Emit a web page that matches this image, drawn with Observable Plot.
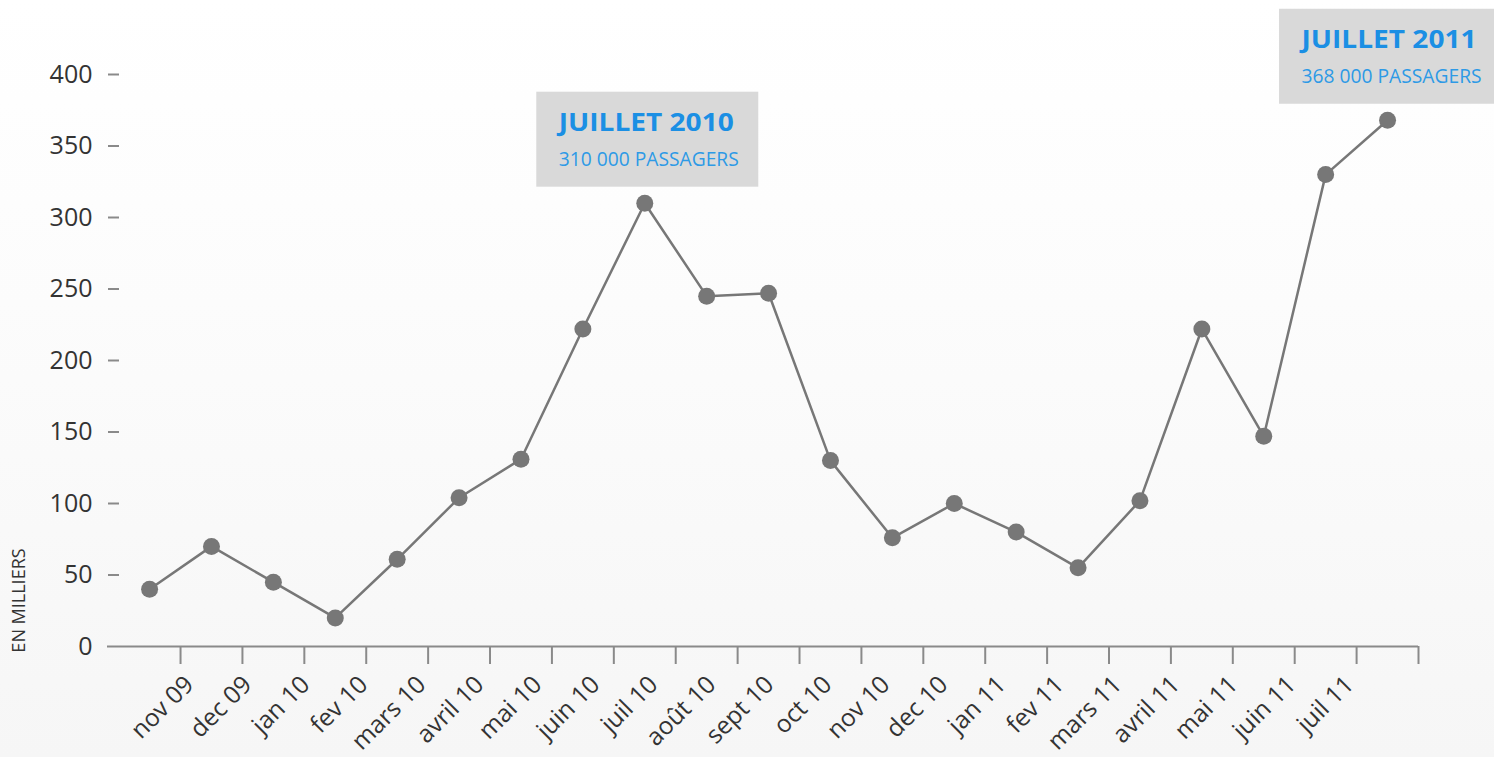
<!DOCTYPE html>
<html>
<head>
<meta charset="utf-8">
<script src="https://cdn.jsdelivr.net/npm/d3@7"></script>
<script src="https://cdn.jsdelivr.net/npm/@observablehq/plot@0.6"></script>
<style>
  html, body { margin: 0; padding: 0; }
  body { width: 1494px; height: 757px; overflow: hidden; background: linear-gradient(#ffffff 0%, #fcfcfc 40%, #f6f6f6 100%); }
  #chart { position: relative; width: 1494px; height: 757px; }
  #chart svg { position: absolute; left: 0; top: 0; display: block; }
</style>
</head>
<body>
<div id="chart"></div>
<script>
const months = ["nov 09", "dec 09", "jan 10", "fev 10", "mars 10", "avril 10", "mai 10", "juin 10", "juil 10", "août 10", "sept 10", "oct 10", "nov 10", "dec 10", "jan 11", "fev 11", "mars 11", "avril 11", "mai 11", "juin 11", "juil 11"];
const passagers = [40, 70, 45, 20, 61, 104, 131, 222, 310, 245, 247, 130, 76, 100, 80, 55, 102, 222, 147, 330, 368];
const yTicks = [0, 50, 100, 150, 200, 250, 300, 350, 400];
const annotMonths = ["juil 10", "juil 11"];
const annotTitles = ["JUILLET 2010", "JUILLET 2011"];
const annotSubs = ["310 000 PASSAGERS", "368 000 PASSAGERS"];
const unitLabel = "EN MILLIERS";

const data = months.map((m, i) => ({m, pos: i + 0.5, v: passagers[i]}));
const tickPositions = months.map((m, i) => i + 1);
const annots = annotMonths.map((m, k) => ({...data[months.indexOf(m)], title: annotTitles[k], sub: annotSubs[k]}));

const gray = "#8a8a8a";
const font = "'Open Sans', sans-serif";

// Main chart: line, dots, axis ticks, annotations
const chart = Plot.plot({
  width: 1494,
  height: 757,
  marginLeft: 107,
  marginRight: 76,
  marginTop: 74,
  marginBottom: 111,
  x: {domain: [-0.18, 21], axis: null},
  y: {domain: [0, 400], axis: null},
  style: {background: "transparent", fontFamily: font, overflow: "visible"},
  marks: [
    Plot.ruleY([0], {stroke: gray, strokeWidth: 2}),
    Plot.axisX({ticks: tickPositions, tickSize: 18, tickFormat: () => "", stroke: gray, strokeWidth: 2, label: null}),
    Plot.axisY({ticks: yTicks.filter(t => t > 0), tickSize: 11, dx: 12, tickFormat: () => "", stroke: gray, strokeWidth: 2, label: null}),
    Plot.axisY({ticks: yTicks, tickSize: 0, tickPadding: 15, fontSize: 25, fill: "#333", label: null}),
    Plot.text([unitLabel], {frameAnchor: "bottom-left", rotate: -90, dx: -83, dy: -46, fontSize: 18, fill: "#333", textAnchor: "middle"}),
    Plot.line(data, {x: "pos", y: "v", stroke: "#777", strokeWidth: 2.5}),
    Plot.dot(data, {x: "pos", y: "v", r: 8.5, fill: "#777", stroke: "none"}),
    Plot.rect(annots, {x1: "pos", x2: "pos", y1: "v", y2: "v", insetLeft: -108, insetRight: -114, insetTop: -111, insetBottom: 16, fill: "#d9d9d9"}),
    Plot.text(annots, {x: "pos", y: "v", text: "title", textAnchor: "start", lineAnchor: "bottom", dx: -86, dy: -72, fontSize: 25, fontWeight: "bold", fill: "#1b8fe4"}),
    Plot.text(annots, {x: "pos", y: "v", text: "sub", textAnchor: "start", lineAnchor: "bottom", dx: -86, dy: -37, fontSize: 20.5, fill: "#2d9ae6"})
  ]
});

// Month labels, spaced as in the original (slightly tighter than the ticks)
const labels = Plot.plot({
  width: 1494,
  height: 757,
  marginLeft: 182,
  marginRight: 139,
  marginTop: 74,
  marginBottom: 111,
  x: {type: "point", domain: months, padding: 0, axis: null},
  style: {background: "transparent", fontFamily: font, overflow: "visible"},
  marks: [
    Plot.axisX({tickSize: 0, tickPadding: 34, tickRotate: -45, fontSize: 24.5, fill: "#333", label: null})
  ]
});

d3.select(chart).selectAll("text").each(function() {
  const t = this.textContent;
  if (annotSubs.includes(t)) { this.setAttribute("textLength", 180); this.setAttribute("lengthAdjust", "spacingAndGlyphs"); }
  if (annotTitles.includes(t)) { this.setAttribute("textLength", 175); this.setAttribute("lengthAdjust", "spacingAndGlyphs"); }
});
const host = document.getElementById("chart");
host.appendChild(chart);
host.appendChild(labels);
</script>
</body>
</html>
